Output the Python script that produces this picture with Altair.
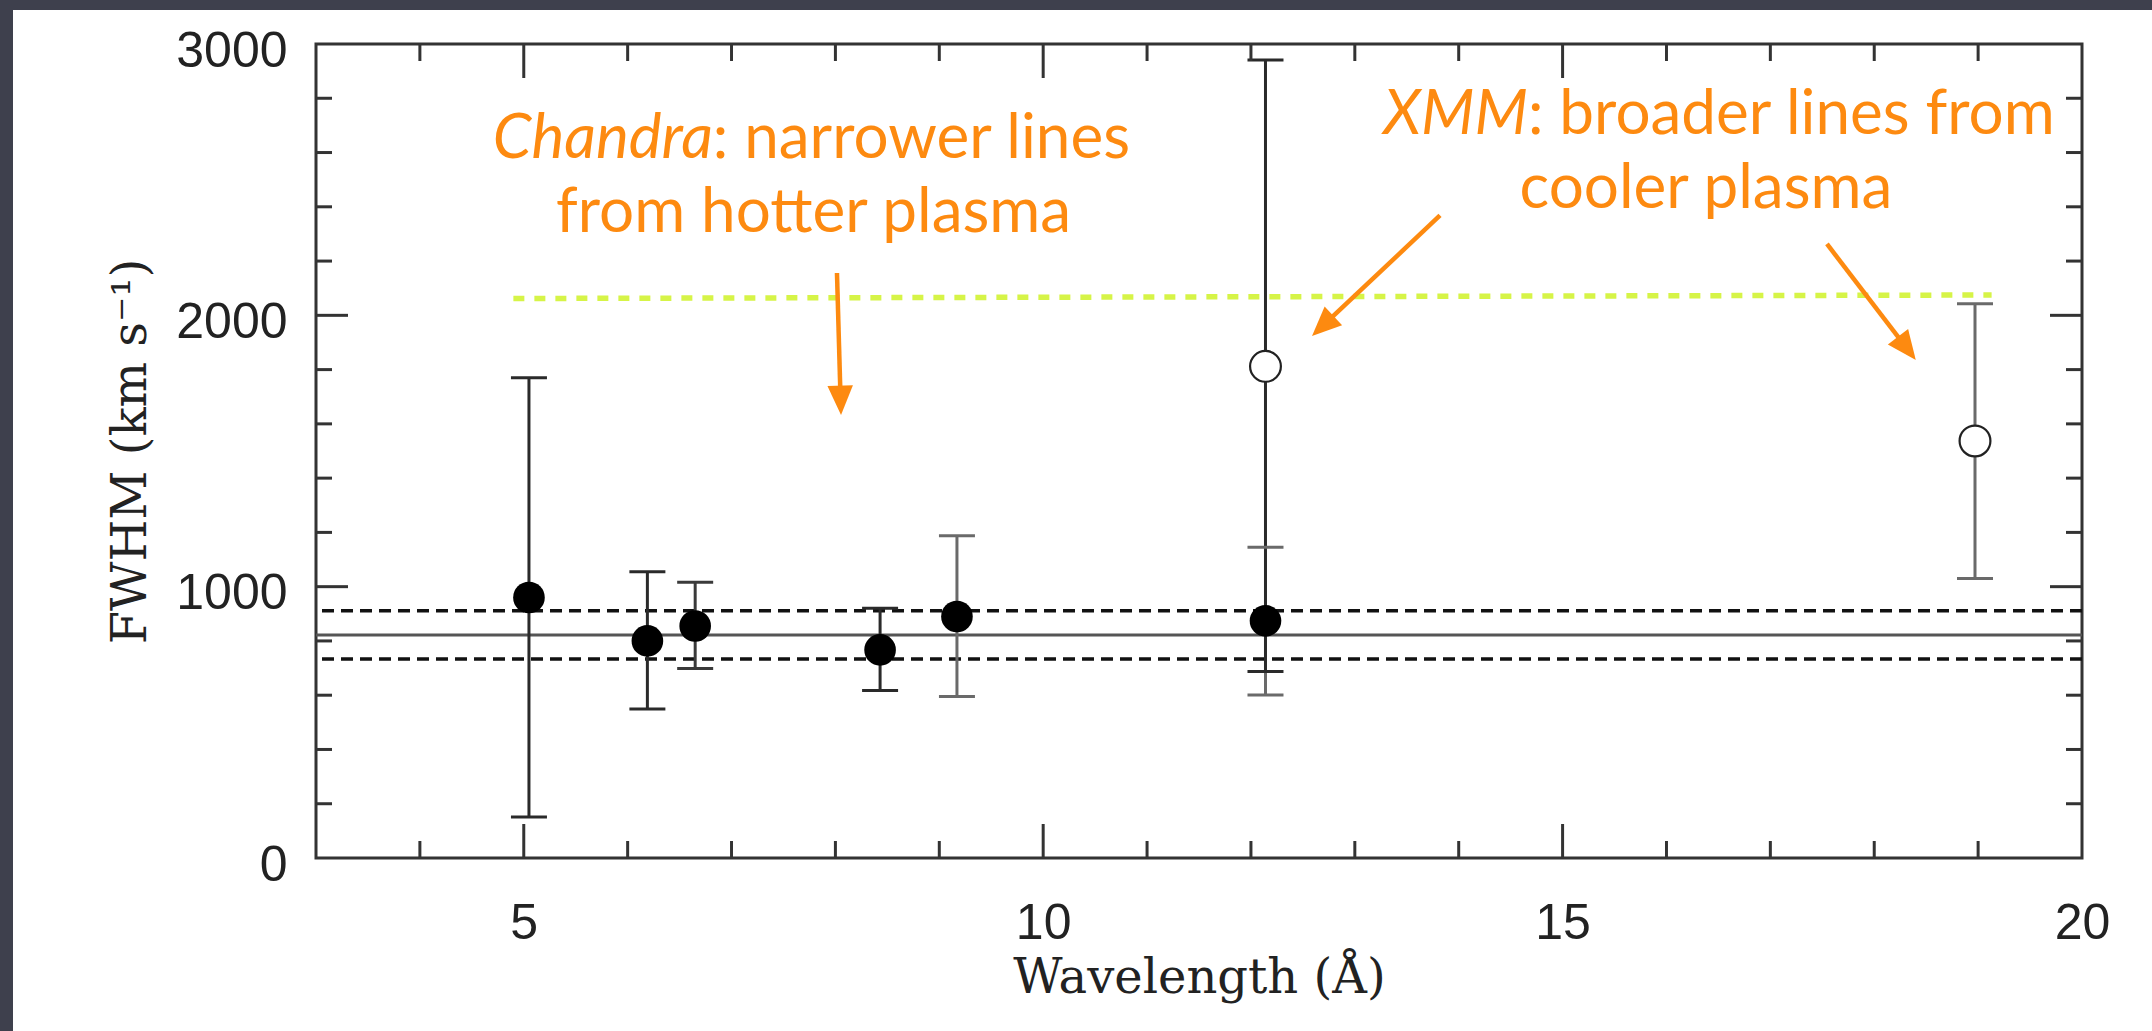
import math
import altair as alt
import pandas as pd

# ---------------- data ----------------
chandra_wl = [5.05, 6.19, 6.65, 8.43, 9.17, 12.14]
chandra_fwhm = [960, 800, 855, 767, 890, 874]
chandra_lo = [151, 549, 698, 617, 595, 601]
chandra_hi = [1770, 1055, 1016, 920, 1188, 1145]
chandra_bar_color = ["#2a2a2a", "#2a2a2a", "#3a3a3a", "#2a2a2a", "#6a6a6a", "#6a6a6a"]

xmm_wl = [12.14, 18.97]
xmm_fwhm = [1812, 1537]
xmm_lo = [687, 1030]
xmm_hi = [2941, 2043]
xmm_bar_color = ["#2a2a2a", "#6a6a6a"]

mean_fwhm = [822]
mean_band = [733, 911]

green_wl = [4.9, 19.13]
green_fwhm = [2062, 2075]

x_label_values = [5, 10, 15, 20]
y_label_values = [0, 1000, 2000, 3000]
x_minor = [4, 6, 7, 8, 9, 11, 12, 13, 14, 16, 17, 18, 19]
x_major = [5, 10, 15]
y_minor = [200, 400, 600, 800, 1200, 1400, 1600, 1800, 2200, 2400, 2600, 2800]
y_major = [1000, 2000]

ann_italic = ["Chandra", "XMM"]
ann_rest = [": narrower lines", ": broader lines from"]
ann_join_wl = [6.82, 14.667]
ann_line1_fwhm = [2580, 2668]
ann_line2 = ["from hotter plasma", "cooler plasma"]
ann_line2_wl = [7.79, 16.38]
ann_line2_fwhm = [2307, 2397]

arrow_start_wl = [8.015, 13.82, 17.545]
arrow_start_fwhm = [2156, 2368, 2263]
arrow_tip_wl = [8.054, 12.588, 18.40]
arrow_tip_fwhm = [1633, 1924, 1835]

# ---------------- layout ----------------
W, H = 1766, 814
XDOM = [3, 20]
YDOM = [0, 3000]
ORANGE = "#fd8a10"
GREEN = "#d6f447"
AXC = "#333333"

xs = alt.Scale(domain=XDOM, nice=False, zero=False)
ys = alt.Scale(domain=YDOM, nice=False, zero=False)

x_axis = alt.Axis(
    values=x_label_values, format="d", title="Wavelength (Å)", grid=False, domain=False,
    ticks=False, labelFont="Liberation Sans", labelFontSize=50, labelColor="#222",
    labelPadding=40, labelFlush=False, labelBound=False,
    titleFont="DejaVu Serif", titleFontSize=48, titleFontWeight="normal",
    titleColor="#222", titlePadding=6,
)
y_axis = alt.Axis(
    values=y_label_values, format="d", title="FWHM (km s⁻¹)", grid=False, domain=False,
    ticks=False, labelFont="Liberation Sans", labelFontSize=50, labelColor="#222",
    labelPadding=29, labelOffset=7, labelFlush=False, labelBound=False,
    titleFont="DejaVu Serif", titleFontSize=48, titleFontWeight="normal",
    titleColor="#222", titlePadding=20,
)


def X(field):
    return alt.X(field, type="quantitative", scale=xs, axis=x_axis)


def Y(field):
    return alt.Y(field, type="quantitative", scale=ys, axis=y_axis)


# data tables
chandra = pd.DataFrame({"wl": chandra_wl, "fwhm": chandra_fwhm, "lo": chandra_lo,
                        "hi": chandra_hi, "c": chandra_bar_color})
xmm = pd.DataFrame({"wl": xmm_wl, "fwhm": xmm_fwhm, "lo": xmm_lo, "hi": xmm_hi,
                    "c": xmm_bar_color})
bars = pd.concat([chandra, xmm], ignore_index=True)
green = pd.DataFrame({"wl": green_wl, "fwhm": green_fwhm})


def to_px(l, v):
    return (l - XDOM[0]) / (XDOM[1] - XDOM[0]) * W, H - (v - YDOM[0]) / (YDOM[1] - YDOM[0]) * H


def to_data(px, py):
    return XDOM[0] + px / W * (XDOM[1] - XDOM[0]), YDOM[0] + (H - py) / H * (YDOM[1] - YDOM[0])


rows = []
for sl, sv, tl, tv in zip(arrow_start_wl, arrow_start_fwhm, arrow_tip_wl, arrow_tip_fwhm):
    sx, sy = to_px(sl, sv)
    tx, ty = to_px(tl, tv)
    dx, dy = tx - sx, ty - sy
    n = math.hypot(dx, dy)
    ux, uy = dx / n, dy / n
    el, ev = to_data(tx - 14 * ux, ty - 14 * uy)
    ang = math.degrees(math.atan2(dx, -dy)) % 360
    rows.append({"sl": sl, "sv": sv, "el": el, "ev": ev, "tl": tl, "tv": tv, "ang": ang})
arrows = pd.DataFrame(rows)

texts1 = pd.DataFrame({"wl": ann_join_wl, "fwhm": ann_line1_fwhm, "it": ann_italic, "rest": ann_rest})
texts2 = pd.DataFrame({"wl": ann_line2_wl, "fwhm": ann_line2_fwhm, "t": ann_line2})

one = alt.Data(values=[{"k": 0}])

# ---------------- layers ----------------
band_top = alt.Chart(one).mark_rect(color="#3e404d").encode(
    x=alt.value(-316), x2=alt.value(W + 70), y=alt.value(-44), y2=alt.value(-34))
band_left = alt.Chart(one).mark_rect(color="#3e404d").encode(
    x=alt.value(-316), x2=alt.value(-303), y=alt.value(-44), y2=alt.value(H + 173))

green_line = alt.Chart(green).mark_line(
    color=GREEN, strokeWidth=5.5, strokeDash=[11, 10]
).encode(x=X("wl:Q"), y=Y("fwhm:Q"))

mean_line = alt.Chart(pd.DataFrame({"v": mean_fwhm})).mark_rule(
    color="#555", strokeWidth=3).encode(y=Y("v:Q"))
band_lines = alt.Chart(pd.DataFrame({"v": mean_band})).mark_rule(
    color="#111", strokeWidth=3.5, strokeDash=[12, 7]).encode(y=Y("v:Q"))

err = alt.Chart(bars).mark_rule(strokeWidth=3).encode(
    x=X("wl:Q"), y=Y("lo:Q"), y2="hi:Q", color=alt.Color("c:N", scale=None))
cap_hi = alt.Chart(bars).mark_rule(strokeWidth=3, xOffset=-18, x2Offset=18).encode(
    x=X("wl:Q"), x2="wl:Q", y=Y("hi:Q"), color=alt.Color("c:N", scale=None))
cap_lo = alt.Chart(bars).mark_rule(strokeWidth=3, xOffset=-18, x2Offset=18).encode(
    x=X("wl:Q"), x2="wl:Q", y=Y("lo:Q"), color=alt.Color("c:N", scale=None))


def tick_layer(vals, axis_kind, length, side):
    d = pd.DataFrame({"t": vals})
    m = alt.Chart(d).mark_rule(color=AXC, strokeWidth=3)
    if axis_kind == "x":
        if side == "bottom":
            return m.encode(x=X("t:Q"), y=alt.value(H), y2=alt.value(H - length))
        return m.encode(x=X("t:Q"), y=alt.value(0), y2=alt.value(length))
    if side == "left":
        return m.encode(y=Y("t:Q"), x=alt.value(0), x2=alt.value(length))
    return m.encode(y=Y("t:Q"), x=alt.value(W), x2=alt.value(W - length))


ticks = [
    tick_layer(x_minor, "x", 17, "bottom"), tick_layer(x_major, "x", 34, "bottom"),
    tick_layer(x_minor, "x", 17, "top"), tick_layer(x_major, "x", 34, "top"),
    tick_layer(y_minor, "y", 16, "left"), tick_layer(y_major, "y", 32, "left"),
    tick_layer(y_minor, "y", 16, "right"), tick_layer(y_major, "y", 32, "right"),
]

filled = alt.Chart(chandra).mark_circle(size=1000, color="black", opacity=1).encode(
    x=X("wl:Q"), y=Y("fwhm:Q"))
openc = alt.Chart(xmm).mark_point(
    shape="circle", size=950, fill="white", fillOpacity=1, stroke="#222",
    strokeWidth=2.2, opacity=1).encode(x=X("wl:Q"), y=Y("fwhm:Q"))

arrow_lines = alt.Chart(arrows).mark_rule(color=ORANGE, strokeWidth=4.5).encode(
    x=X("sl:Q"), y=Y("sv:Q"), x2="el:Q", y2="ev:Q")
arrow_heads = alt.Chart(arrows).mark_point(
    shape="M0,0L0.5,1.15L-0.5,1.15Z", size=2600, filled=True, color=ORANGE,
    opacity=1).encode(x=X("tl:Q"), y=Y("tv:Q"), angle=alt.Angle("ang:Q", scale=None))

txt_style = dict(font="Lato", fontSize=62, color=ORANGE, baseline="alphabetic")
t_it = alt.Chart(texts1).mark_text(align="right", fontStyle="italic", **txt_style).encode(
    x=X("wl:Q"), y=Y("fwhm:Q"), text="it:N")
t_rest = alt.Chart(texts1).mark_text(align="left", **txt_style).encode(
    x=X("wl:Q"), y=Y("fwhm:Q"), text="rest:N")
t_2 = alt.Chart(texts2).mark_text(align="center", **txt_style).encode(
    x=X("wl:Q"), y=Y("fwhm:Q"), text="t:N")

chart = alt.layer(
    band_top, band_left, green_line, mean_line, band_lines, err, cap_hi, cap_lo,
    *ticks, filled, openc, arrow_lines, arrow_heads, t_it, t_rest, t_2,
).properties(
    width=W, height=H,
    autosize=alt.AutoSizeParams(type="none"),
    padding={"left": 316, "top": 44, "right": 70, "bottom": 173},
    background="white",
).configure_view(stroke=AXC, strokeWidth=3, fill="white")

chart.save("out.html", embed_options={"renderer": "svg", "actions": False})
